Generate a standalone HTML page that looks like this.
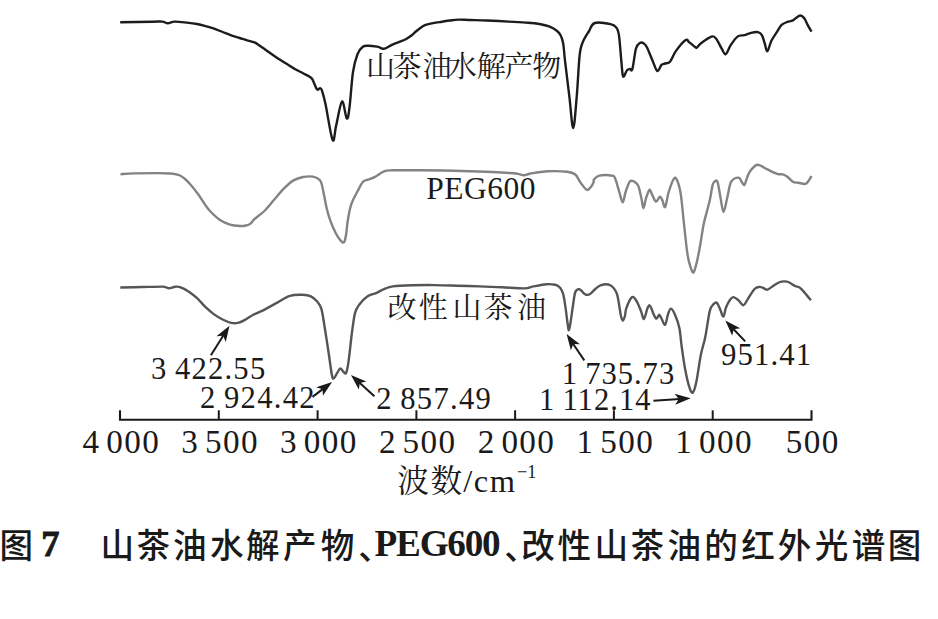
<!DOCTYPE html><html><head><meta charset="utf-8"><title>IR spectra</title><style>html,body{margin:0;padding:0;background:#fff;}svg{display:block;}text{fill:#1a1a1a;}</style></head><body>
<svg width="938" height="619" viewBox="0 0 938 619">
<rect width="938" height="619" fill="#fff"/>
<path d="M120.20,22.20 C125.60,22.12 145.58,21.80 152.60,21.70 C159.62,21.60 159.77,21.33 162.30,21.60 C164.83,21.87 165.75,23.30 167.80,23.30 C169.85,23.30 171.40,21.72 174.60,21.60 C177.80,21.48 183.25,22.20 187.00,22.60 C190.75,23.00 194.00,23.42 197.10,24.00 C200.20,24.58 202.77,25.32 205.60,26.10 C208.43,26.88 211.27,27.72 214.10,28.70 C216.93,29.68 219.75,30.88 222.60,32.00 C225.45,33.12 228.35,34.40 231.20,35.40 C234.05,36.40 237.07,37.18 239.70,38.00 C242.33,38.82 244.53,39.57 247.00,40.30 C249.47,41.03 252.43,41.53 254.50,42.40 C256.57,43.27 256.97,43.85 259.40,45.50 C261.83,47.15 265.87,50.03 269.10,52.30 C272.33,54.57 275.57,57.00 278.80,59.10 C282.03,61.20 285.75,63.20 288.50,64.90 C291.25,66.60 292.88,67.92 295.30,69.30 C297.72,70.68 300.55,71.93 303.00,73.20 C305.45,74.47 308.43,75.87 310.00,76.90 C311.57,77.93 311.43,77.70 312.40,79.40 C313.37,81.10 314.95,85.38 315.80,87.10 C316.65,88.82 316.77,89.50 317.50,89.70 C318.23,89.90 319.45,88.15 320.20,88.30 C320.95,88.45 321.12,87.98 322.00,90.60 C322.88,93.22 323.73,95.77 325.50,104.00 C327.27,112.23 330.82,136.45 332.60,140.00 C334.38,143.55 334.63,131.72 336.20,125.30 C337.77,118.88 340.23,102.63 342.00,101.50 C343.77,100.37 345.55,117.50 346.80,118.50 C348.05,119.50 348.47,115.25 349.50,107.50 C350.53,99.75 351.67,80.88 353.00,72.00 C354.33,63.12 355.87,58.40 357.50,54.20 C359.13,50.00 361.02,48.22 362.80,46.80 C364.58,45.38 365.83,45.73 368.20,45.70 C370.57,45.67 375.03,46.28 377.00,46.60 C378.97,46.92 379.03,47.23 380.00,47.60 C380.97,47.97 381.80,48.70 382.80,48.80 C383.80,48.90 384.40,48.90 386.00,48.20 C387.60,47.50 390.18,45.65 392.40,44.60 C394.62,43.55 397.00,42.83 399.30,41.90 C401.60,40.97 404.07,40.15 406.20,39.00 C408.33,37.85 410.38,36.33 412.10,35.00 C413.82,33.67 414.72,32.45 416.50,31.00 C418.28,29.55 421.12,27.37 422.80,26.30 C424.48,25.23 424.90,25.13 426.60,24.60 C428.30,24.07 430.43,23.58 433.00,23.10 C435.57,22.62 439.17,22.13 442.00,21.70 C444.83,21.27 447.23,20.85 450.00,20.50 C452.77,20.15 455.27,19.68 458.60,19.60 C461.93,19.52 465.33,19.85 470.00,20.00 C474.67,20.15 480.13,20.23 486.60,20.50 C493.07,20.77 501.90,21.23 508.80,21.60 C515.70,21.97 522.88,22.30 528.00,22.70 C533.12,23.10 535.98,23.38 539.50,24.00 C543.02,24.62 546.22,25.28 549.10,26.40 C551.98,27.52 554.88,29.23 556.80,30.70 C558.72,32.17 559.53,33.07 560.60,35.20 C561.67,37.33 562.47,39.27 563.20,43.50 C563.93,47.73 563.97,51.70 565.00,60.60 C566.03,69.50 568.03,85.67 569.40,96.90 C570.77,108.13 571.98,128.00 573.20,128.00 C574.42,128.00 575.63,108.95 576.70,96.90 C577.77,84.85 578.60,64.78 579.60,55.70 C580.60,46.62 581.17,46.43 582.70,42.40 C584.23,38.37 586.78,34.73 588.80,31.50 C590.82,28.27 591.17,24.22 594.80,23.00 C598.43,21.78 606.97,23.38 610.60,24.20 C614.23,25.02 615.18,25.88 616.60,27.90 C618.02,29.92 618.28,30.45 619.10,36.30 C619.92,42.15 620.82,56.30 621.50,63.00 C622.18,69.70 622.28,75.28 623.20,76.50 C624.12,77.72 625.87,71.55 627.00,70.30 C628.13,69.05 629.10,69.22 630.00,69.00 C630.90,68.78 631.40,72.42 632.40,69.00 C633.40,65.58 634.78,52.82 636.00,48.50 C637.22,44.18 638.48,44.00 639.70,43.10 C640.92,42.20 642.10,42.42 643.30,43.10 C644.50,43.78 645.28,44.08 646.90,47.20 C648.52,50.32 651.27,57.83 653.00,61.80 C654.73,65.77 655.88,70.48 657.30,71.00 C658.72,71.52 660.22,66.15 661.50,64.90 C662.78,63.65 663.58,64.02 665.00,63.50 C666.42,62.98 668.17,63.90 670.00,61.80 C671.83,59.70 673.38,54.53 676.00,50.90 C678.62,47.27 683.48,41.42 685.70,40.00 C687.92,38.58 687.68,41.20 689.30,42.40 C690.92,43.60 694.15,46.35 695.40,47.20 C696.65,48.05 695.82,48.20 696.80,47.50 C697.78,46.80 698.85,44.82 701.30,43.00 C703.75,41.18 709.05,37.35 711.50,36.60 C713.95,35.85 714.30,36.50 716.00,38.50 C717.70,40.50 720.08,45.98 721.70,48.60 C723.32,51.22 724.20,54.77 725.70,54.20 C727.20,53.63 728.73,48.13 730.70,45.20 C732.67,42.27 735.23,38.28 737.50,36.60 C739.77,34.92 742.03,35.73 744.30,35.10 C746.57,34.47 748.83,33.30 751.10,32.80 C753.37,32.30 756.10,31.72 757.90,32.10 C759.70,32.48 760.78,33.28 761.90,35.10 C763.02,36.92 763.68,40.32 764.60,43.00 C765.52,45.68 766.27,51.58 767.40,51.20 C768.53,50.82 769.78,43.95 771.40,40.70 C773.02,37.45 775.40,34.33 777.10,31.70 C778.80,29.07 779.90,26.53 781.60,24.90 C783.30,23.27 785.42,22.65 787.30,21.90 C789.18,21.15 790.83,21.45 792.90,20.40 C794.97,19.35 797.82,15.98 799.70,15.60 C801.58,15.22 802.88,16.55 804.20,18.10 C805.52,19.65 806.38,22.63 807.60,24.90 C808.82,27.17 810.85,30.57 811.50,31.70" stroke="#1c1c1c" stroke-width="2.4" fill="none" stroke-linejoin="round" stroke-linecap="butt"/>
<path d="M120.50,174.20 C122.78,174.07 127.88,173.58 134.20,173.40 C140.52,173.22 152.43,173.08 158.40,173.10 C164.37,173.12 167.23,173.33 170.00,173.50 C172.77,173.67 173.33,173.77 175.00,174.10 C176.67,174.43 178.33,174.68 180.00,175.50 C181.67,176.32 183.33,177.58 185.00,179.00 C186.67,180.42 187.83,181.50 190.00,184.00 C192.17,186.50 195.67,190.83 198.00,194.00 C200.33,197.17 202.00,200.17 204.00,203.00 C206.00,205.83 207.33,208.17 210.00,211.00 C212.67,213.83 216.67,217.73 220.00,220.00 C223.33,222.27 226.67,223.60 230.00,224.60 C233.33,225.60 237.33,225.85 240.00,226.00 C242.67,226.15 244.25,225.90 246.00,225.50 C247.75,225.10 249.05,224.72 250.50,223.60 C251.95,222.48 252.38,220.90 254.70,218.80 C257.02,216.70 261.17,214.17 264.40,211.00 C267.63,207.83 270.87,203.52 274.10,199.80 C277.33,196.08 280.57,191.93 283.80,188.70 C287.03,185.47 290.27,182.35 293.50,180.40 C296.73,178.45 299.97,177.63 303.20,177.00 C306.43,176.37 310.20,176.17 312.90,176.60 C315.60,177.03 317.92,178.28 319.40,179.60 C320.88,180.92 321.00,181.80 321.80,184.50 C322.60,187.20 323.37,191.77 324.20,195.80 C325.03,199.83 325.72,204.38 326.80,208.70 C327.88,213.02 329.20,217.60 330.70,221.70 C332.20,225.80 334.32,230.37 335.80,233.30 C337.28,236.23 338.48,237.80 339.60,239.30 C340.72,240.80 341.67,241.97 342.50,242.30 C343.33,242.63 343.97,242.85 344.60,241.30 C345.23,239.75 345.80,236.27 346.30,233.00 C346.80,229.73 346.98,225.75 347.60,221.70 C348.22,217.65 349.17,212.15 350.00,208.70 C350.83,205.25 351.30,204.00 352.60,201.00 C353.90,198.00 356.07,193.90 357.80,190.70 C359.53,187.50 361.28,183.65 363.00,181.80 C364.72,179.95 366.17,180.38 368.10,179.60 C370.03,178.82 371.95,178.48 374.60,177.10 C377.25,175.72 381.08,172.43 384.00,171.30 C386.92,170.17 389.43,170.47 392.10,170.30 C394.77,170.13 395.02,170.30 400.00,170.30 C404.98,170.30 413.00,170.23 422.00,170.30 C431.00,170.37 443.33,170.47 454.00,170.70 C464.67,170.93 476.77,171.32 486.00,171.70 C495.23,172.08 504.08,172.63 509.40,173.00 C514.72,173.37 515.42,173.53 517.90,173.90 C520.38,174.27 522.17,175.27 524.30,175.20 C526.43,175.13 526.78,174.15 530.70,173.50 C534.62,172.85 541.75,171.60 547.80,171.30 C553.85,171.00 562.42,171.17 567.00,171.70 C571.58,172.23 573.05,172.70 575.30,174.50 C577.55,176.30 578.58,179.95 580.50,182.50 C582.42,185.05 585.05,189.10 586.80,189.80 C588.55,190.50 589.88,187.92 591.00,186.70 C592.12,185.48 592.98,183.72 593.50,182.50 C594.02,181.28 593.12,180.55 594.10,179.40 C595.08,178.25 596.42,176.23 599.40,175.60 C602.38,174.97 609.38,175.15 612.00,175.60 C614.62,176.05 613.88,175.57 615.10,178.30 C616.32,181.03 618.03,188.00 619.30,192.00 C620.57,196.00 621.65,202.30 622.70,202.30 C623.75,202.30 624.42,195.47 625.60,192.00 C626.78,188.53 628.40,183.25 629.80,181.50 C631.20,179.75 632.60,180.80 634.00,181.50 C635.40,182.20 636.97,182.90 638.20,185.70 C639.43,188.50 640.52,194.55 641.40,198.30 C642.28,202.05 642.73,208.20 643.50,208.20 C644.27,208.20 645.02,201.35 646.00,198.30 C646.98,195.25 648.42,190.60 649.40,189.90 C650.38,189.20 650.80,192.15 651.90,194.10 C653.00,196.05 654.67,201.18 656.00,201.60 C657.33,202.02 658.83,196.80 659.90,196.60 C660.97,196.40 661.52,198.67 662.40,200.40 C663.28,202.13 664.15,208.40 665.20,207.00 C666.25,205.60 667.22,196.77 668.70,192.00 C670.18,187.23 672.62,180.15 674.10,178.40 C675.58,176.65 676.47,178.70 677.60,181.50 C678.73,184.30 679.77,187.50 680.90,195.20 C682.03,202.90 683.28,217.73 684.40,227.70 C685.52,237.67 686.55,248.35 687.60,255.00 C688.65,261.65 689.70,264.72 690.70,267.60 C691.70,270.48 692.55,273.35 693.60,272.30 C694.65,271.25 695.90,265.85 697.00,261.30 C698.10,256.75 699.10,251.12 700.20,245.00 C701.30,238.88 702.47,230.25 703.60,224.60 C704.73,218.95 705.95,215.23 707.00,211.10 C708.05,206.97 708.97,204.13 709.90,199.80 C710.83,195.47 711.77,188.20 712.60,185.10 C713.43,182.00 714.07,181.70 714.90,181.20 C715.73,180.70 716.67,179.38 717.60,182.10 C718.53,184.82 719.52,192.52 720.50,197.50 C721.48,202.48 722.37,212.00 723.50,212.00 C724.63,212.00 726.02,202.55 727.30,197.50 C728.58,192.45 729.32,185.02 731.20,181.70 C733.08,178.38 736.87,177.60 738.60,177.60 C740.33,177.60 740.65,180.45 741.60,181.70 C742.55,182.95 743.48,185.48 744.30,185.10 C745.12,184.72 745.57,181.67 746.50,179.40 C747.43,177.13 748.08,173.95 749.90,171.50 C751.72,169.05 754.57,165.08 757.40,164.70 C760.23,164.32 763.62,167.68 766.90,169.20 C770.18,170.72 774.47,172.93 777.10,173.80 C779.73,174.67 781.00,173.92 782.70,174.40 C784.40,174.88 785.60,175.48 787.30,176.70 C789.00,177.92 791.02,180.68 792.90,181.70 C794.78,182.72 796.52,182.43 798.60,182.80 C800.68,183.17 803.70,184.28 805.40,183.90 C807.10,183.52 807.78,181.82 808.80,180.50 C809.82,179.18 811.05,176.75 811.50,176.00" stroke="#838383" stroke-width="2.4" fill="none" stroke-linejoin="round" stroke-linecap="butt"/>
<path d="M120.30,287.50 C123.97,287.42 135.30,287.15 142.30,287.00 C149.30,286.85 158.43,286.57 162.30,286.60 C166.17,286.63 164.38,286.92 165.50,287.20 C166.62,287.48 167.92,288.23 169.00,288.30 C170.08,288.37 170.95,287.87 172.00,287.60 C173.05,287.33 173.97,286.78 175.30,286.70 C176.63,286.62 177.80,286.32 180.00,287.10 C182.20,287.88 185.65,289.55 188.50,291.40 C191.35,293.25 194.25,295.57 197.10,298.20 C199.95,300.83 202.77,304.50 205.60,307.20 C208.43,309.90 211.27,312.35 214.10,314.40 C216.93,316.45 219.75,318.10 222.60,319.50 C225.45,320.90 228.63,322.23 231.20,322.80 C233.77,323.37 235.73,323.37 238.00,322.90 C240.27,322.43 242.25,321.35 244.80,320.00 C247.35,318.65 250.33,316.37 253.30,314.80 C256.27,313.23 258.60,312.63 262.60,310.60 C266.60,308.57 272.75,305.07 277.30,302.60 C281.85,300.13 285.70,297.10 289.90,295.80 C294.10,294.50 299.00,294.72 302.50,294.80 C306.00,294.88 308.45,295.18 310.90,296.30 C313.35,297.42 315.45,299.40 317.20,301.50 C318.95,303.60 320.17,304.70 321.40,308.90 C322.63,313.10 323.37,319.18 324.60,326.70 C325.83,334.22 327.58,345.95 328.80,354.00 C330.02,362.05 331.07,370.92 331.90,375.00 C332.73,379.08 332.92,378.85 333.80,378.50 C334.68,378.15 336.12,374.57 337.20,372.90 C338.28,371.23 339.25,368.67 340.30,368.50 C341.35,368.33 342.52,371.20 343.50,371.90 C344.48,372.60 345.33,374.63 346.20,372.70 C347.07,370.77 347.75,366.92 348.70,360.30 C349.65,353.68 350.85,340.87 351.90,333.00 C352.95,325.13 353.78,317.82 355.00,313.10 C356.22,308.38 357.10,307.50 359.20,304.70 C361.30,301.90 364.80,298.23 367.60,296.30 C370.40,294.37 373.18,294.33 376.00,293.10 C378.82,291.87 381.68,290.02 384.50,288.90 C387.32,287.78 388.25,287.00 392.90,286.40 C397.55,285.80 405.42,285.52 412.40,285.30 C419.38,285.08 427.33,285.03 434.80,285.10 C442.27,285.17 449.75,285.48 457.20,285.70 C464.65,285.92 472.05,286.13 479.50,286.40 C486.95,286.67 494.43,286.97 501.90,287.30 C509.37,287.63 519.07,288.55 524.30,288.40 C529.53,288.25 529.57,287.10 533.30,286.40 C537.03,285.70 543.08,284.48 546.70,284.20 C550.32,283.92 552.97,284.30 555.00,284.70 C557.03,285.10 557.77,285.63 558.90,286.60 C560.03,287.57 561.00,288.88 561.80,290.50 C562.60,292.12 563.05,293.23 563.70,296.30 C564.35,299.37 565.05,304.37 565.70,308.90 C566.35,313.43 567.07,319.95 567.60,323.50 C568.13,327.05 568.42,330.37 568.90,330.20 C569.38,330.03 569.83,326.53 570.50,322.50 C571.17,318.47 572.17,310.85 572.90,306.00 C573.63,301.15 574.25,296.07 574.90,293.40 C575.55,290.73 576.08,290.68 576.80,290.00 C577.52,289.32 578.38,289.13 579.20,289.30 C580.02,289.47 580.80,290.23 581.70,291.00 C582.60,291.77 583.55,293.25 584.60,293.90 C585.65,294.55 586.95,294.98 588.00,294.90 C589.05,294.82 589.77,294.30 590.90,293.40 C592.03,292.50 593.35,290.78 594.80,289.50 C596.25,288.22 597.83,286.58 599.60,285.70 C601.37,284.82 603.62,284.28 605.40,284.20 C607.18,284.12 608.85,284.47 610.30,285.20 C611.75,285.93 612.97,287.07 614.10,288.60 C615.23,290.13 616.28,291.82 617.10,294.40 C617.92,296.98 618.37,300.55 619.00,304.10 C619.63,307.65 620.25,312.95 620.90,315.70 C621.55,318.45 622.22,320.60 622.90,320.60 C623.58,320.60 624.45,317.70 625.00,315.70 C625.55,313.70 625.07,311.67 626.20,308.60 C627.33,305.53 630.12,298.62 631.80,297.30 C633.48,295.98 634.78,298.43 636.30,300.70 C637.82,302.97 639.63,307.85 640.90,310.90 C642.17,313.95 642.85,319.32 643.90,319.00 C644.95,318.68 646.33,311.28 647.20,309.00 C648.07,306.72 648.47,305.55 649.10,305.30 C649.73,305.05 650.30,306.13 651.00,307.50 C651.70,308.87 652.48,311.70 653.30,313.50 C654.12,315.30 655.20,317.63 655.90,318.30 C656.60,318.97 656.93,318.08 657.50,317.50 C658.07,316.92 658.63,314.63 659.30,314.80 C659.97,314.97 660.53,316.83 661.50,318.50 C662.47,320.17 664.02,325.50 665.10,324.80 C666.18,324.10 667.03,317.00 668.00,314.30 C668.97,311.60 669.77,308.60 670.90,308.60 C672.03,308.60 673.40,311.10 674.80,314.30 C676.20,317.50 678.17,322.53 679.30,327.80 C680.43,333.07 680.65,339.12 681.60,345.90 C682.55,352.68 683.68,361.53 685.00,368.50 C686.32,375.47 688.18,383.70 689.50,387.70 C690.82,391.70 691.77,393.43 692.90,392.50 C694.03,391.57 694.98,388.35 696.30,382.10 C697.62,375.85 699.30,362.53 700.80,355.00 C702.30,347.47 703.80,344.25 705.30,336.90 C706.80,329.55 708.42,316.37 709.80,310.90 C711.18,305.43 712.40,305.42 713.60,304.10 C714.80,302.78 715.88,302.07 717.00,303.00 C718.12,303.93 719.23,307.43 720.30,309.70 C721.37,311.97 722.45,316.97 723.40,316.60 C724.35,316.23 724.83,310.40 726.00,307.50 C727.17,304.60 729.13,300.93 730.40,299.20 C731.67,297.47 732.27,296.93 733.60,297.10 C734.93,297.27 736.77,298.85 738.40,300.20 C740.03,301.55 741.88,305.30 743.40,305.20 C744.92,305.10 745.68,302.27 747.50,299.60 C749.32,296.93 752.30,291.32 754.30,289.20 C756.30,287.08 758.00,287.10 759.50,286.90 C761.00,286.70 761.98,287.55 763.30,288.00 C764.62,288.45 765.47,290.15 767.40,289.60 C769.33,289.05 772.80,285.97 774.90,284.70 C777.00,283.43 778.52,282.55 780.00,282.00 C781.48,281.45 782.42,281.40 783.80,281.40 C785.18,281.40 786.43,281.23 788.30,282.00 C790.17,282.77 793.27,285.17 795.00,286.00 C796.73,286.83 797.58,286.43 798.70,287.00 C799.82,287.57 800.43,288.13 801.70,289.40 C802.97,290.67 804.75,292.78 806.30,294.60 C807.85,296.42 810.22,299.35 811.00,300.30" stroke="#555555" stroke-width="2.4" fill="none" stroke-linejoin="round" stroke-linecap="butt"/>
<path d="M120.0,410.3 L120.0,419.8 L811.5,419.8 L811.5,410.3" stroke="#1a1a1a" stroke-width="2.1" fill="none" stroke-linejoin="miter"/>
<path d="M218.8,410.3 L218.8,419.8" stroke="#1a1a1a" stroke-width="2" fill="none"/>
<path d="M317.6,410.3 L317.6,419.8" stroke="#1a1a1a" stroke-width="2" fill="none"/>
<path d="M416.4,410.3 L416.4,419.8" stroke="#1a1a1a" stroke-width="2" fill="none"/>
<path d="M515.1,410.3 L515.1,419.8" stroke="#1a1a1a" stroke-width="2" fill="none"/>
<path d="M613.9,410.3 L613.9,419.8" stroke="#1a1a1a" stroke-width="2" fill="none"/>
<path d="M712.7,410.3 L712.7,419.8" stroke="#1a1a1a" stroke-width="2" fill="none"/>
<text x="82.55" y="453.45" style="font-family:'Liberation Serif',serif;font-size:33.2px;letter-spacing:1.4px">4<tspan dx="5.7">000</tspan></text>
<text x="181.34" y="453.45" style="font-family:'Liberation Serif',serif;font-size:33.2px;letter-spacing:1.4px">3<tspan dx="5.7">500</tspan></text>
<text x="280.12" y="453.45" style="font-family:'Liberation Serif',serif;font-size:33.2px;letter-spacing:1.4px">3<tspan dx="5.7">000</tspan></text>
<text x="378.91" y="453.45" style="font-family:'Liberation Serif',serif;font-size:33.2px;letter-spacing:1.4px">2<tspan dx="5.7">500</tspan></text>
<text x="477.69" y="453.45" style="font-family:'Liberation Serif',serif;font-size:33.2px;letter-spacing:1.4px">2<tspan dx="5.7">000</tspan></text>
<text x="576.48" y="453.45" style="font-family:'Liberation Serif',serif;font-size:33.2px;letter-spacing:1.4px">1<tspan dx="5.7">500</tspan></text>
<text x="675.26" y="453.45" style="font-family:'Liberation Serif',serif;font-size:33.2px;letter-spacing:1.4px">1<tspan dx="5.7">000</tspan></text>
<text x="785.85" y="453.45" style="font-family:'Liberation Serif',serif;font-size:33.2px;letter-spacing:1.4px">500</text>
<text x="720.9" y="365.45" style="font-family:'Liberation Serif',serif;font-size:30.8px;font-weight:400;letter-spacing:1.13px">951.41</text>
<text x="151.1" y="378.73" style="font-family:'Liberation Serif',serif;font-size:30.6px;font-weight:400;letter-spacing:1.22px">3 422.55</text>
<text x="199.95" y="407.77" style="font-family:'Liberation Serif',serif;font-size:30.6px;font-weight:400;letter-spacing:1.3px">2 924.42</text>
<text x="376.35" y="409.15" style="font-family:'Liberation Serif',serif;font-size:30.6px;font-weight:400;letter-spacing:1.27px">2 857.49</text>
<text x="561.85" y="383.83" style="font-family:'Liberation Serif',serif;font-size:30.6px;font-weight:400;letter-spacing:0.97px">1 735.73</text>
<text x="538.95" y="409.67" style="font-family:'Liberation Serif',serif;font-size:30.6px;font-weight:400;letter-spacing:1.02px">1 112.14</text>
<text x="426.3" y="199.32" style="font-family:'Liberation Serif',serif;font-size:31.5px;font-weight:400;letter-spacing:0.5px">PEG600</text>
<path d="M210.9,355.3 L223.6,335.0" stroke="#1a1a1a" stroke-width="2.0" fill="none"/><path d="M229.50,325.70 L225.75,342.00 L223.12,335.86 L216.44,336.15 Z" fill="#1a1a1a"/>
<path d="M312.5,396.9 L323.4,388.6" stroke="#1a1a1a" stroke-width="2.0" fill="none"/><path d="M332.10,381.90 L322.90,395.87 L322.57,389.19 L316.21,387.13 Z" fill="#1a1a1a"/>
<path d="M374.4,396.3 L359.0,382.3" stroke="#1a1a1a" stroke-width="2.0" fill="none"/><path d="M350.90,374.90 L366.29,381.47 L359.77,382.98 L358.88,389.60 Z" fill="#1a1a1a"/>
<path d="M584.3,360.4 L572.7,343.2" stroke="#1a1a1a" stroke-width="2.0" fill="none"/><path d="M566.60,334.10 L579.98,344.14 L573.30,344.06 L570.86,350.28 Z" fill="#1a1a1a"/>
<path d="M653.4,400.7 L679.7,398.9" stroke="#1a1a1a" stroke-width="2.0" fill="none"/><path d="M690.70,398.20 L675.30,404.74 L678.73,399.00 L674.57,393.77 Z" fill="#1a1a1a"/>
<path d="M745.2,341.4 L732.9,328.5" stroke="#1a1a1a" stroke-width="2.0" fill="none"/><path d="M725.30,320.60 L740.20,328.21 L733.60,329.27 L732.25,335.82 Z" fill="#1a1a1a"/>
<text x="365.95 392.4 422.55 447.7 476.75 504.3 532.3" y="76.65 76.65 76.65 76.65 76.65 76.65 76.65" style="font-family:'Liberation Serif','Noto Serif CJK SC',serif;font-size:29.0px;font-weight:400">山茶油水解产物</text>
<text x="387.5 418.75 452.55 483.6 516.95" y="317.7 317.7 317.7 317.7 317.7" style="font-family:'Liberation Serif','Noto Serif CJK SC',serif;font-size:29.0px;font-weight:400">改性山茶油</text>
<text style="font-family:'Liberation Serif','Noto Serif CJK SC',serif;font-size:31.7px"><tspan x="397.15 430.45" y="492.29">波数</tspan><tspan x="463.3" y="491.73" style="font-family:'Liberation Serif',serif;font-size:32.5px;letter-spacing:1.53px">/cm</tspan><tspan x="517.0" y="477.7" style="font-family:'Liberation Serif',serif;font-size:18.3px;letter-spacing:-0.15px">−1</tspan></text>
<text style="font-family:'Liberation Serif','Noto Sans CJK SC',sans-serif;font-size:33.6px;font-weight:500"><tspan x="-0.4" y="558.05">图</tspan><tspan x="41.2" y="556.15" style="font-family:'Liberation Serif',serif;font-weight:700;font-size:36.5px" stroke="#1a1a1a" stroke-width="0.8">7</tspan><tspan x="100.6 136.55 173.1 209.95 245.9 283.1 320.85 358.25" y="558.05 558.05 558.05 558.05 558.05 558.05 558.05 559.55">山茶油水解产物、</tspan><tspan x="374.55" y="556.12" style="font-family:'Liberation Serif',serif;font-weight:700;font-size:37.2px;letter-spacing:-1.22px">PEG600</tspan><tspan x="504.15 521.25 557.45 594.5 630.55 667.5 704.35 741.3 777.65 814.8 851.65 887.85" y="559.55 558.05 558.05 558.05 558.05 558.05 558.05 558.05 558.05 558.05 558.05 558.05">、改性山茶油的红外光谱图</tspan></text>
</svg></body></html>
